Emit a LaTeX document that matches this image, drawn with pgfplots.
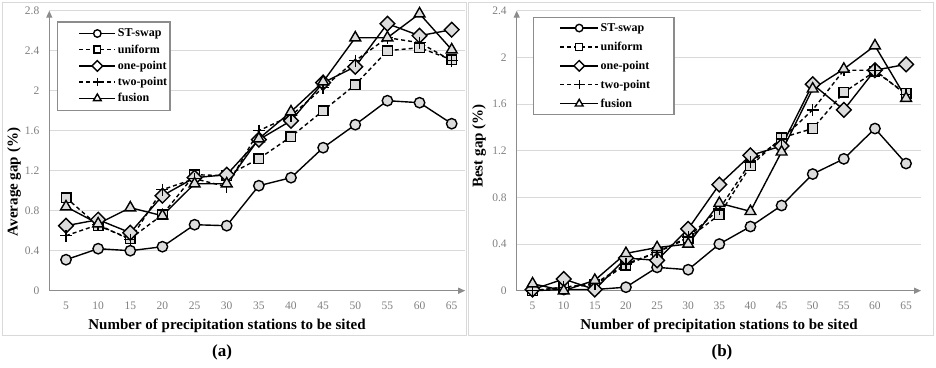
\documentclass[border=0pt]{standalone}
\usepackage{fontspec}
\setmainfont{Liberation Serif}
\usepackage{pgfplots}
\pgfplotsset{compat=1.18}
\usetikzlibrary{arrows.meta}
\definecolor{axgray}{HTML}{8C8C8C}
\definecolor{gridgray}{HTML}{D9D9D9}
\definecolor{mk}{HTML}{DCDCDC}
\definecolor{tickgray}{HTML}{7F7F7F}

\pgfplotsset{
  panel/.style={
    scale only axis, clip=false,
    height=280pt, ymin=0,
    axis x line=bottom, axis y line=left,
    axis line style={draw=axgray, line width=1.3pt, -{Triangle[length=7pt,width=6pt]}},
    ymajorgrids, grid style={gridgray, line width=0.9pt},
    major tick length=0pt,
    xtick={5,10,...,65},
    tick label style={font=\fontsize{11.5}{13}\selectfont, text=tickgray},
    /pgf/number format/assume math mode=true,
    /pgf/number format/fixed,
    yticklabel style={xshift=-6.5pt},
    xticklabel style={yshift=-7.5pt},
    legend cell align=left,
    legend image post style={every mark/.append style={fill=white, scale=0.72}},
  },
  sts/.style={black, line width=1.4pt, solid, mark=*, mark size=5.2pt, mark options={solid, fill=mk}},
  uni/.style={black, line width=1.4pt, dash pattern=on 4pt off 3pt, mark=square*, mark size=4.8pt, mark options={solid, fill=mk}},
  one/.style={black, line width=1.4pt, solid, mark=square*, mark size=5.2pt, mark options={solid, fill=mk, rotate=45}},
  two/.style={black, line width=1.4pt, dash pattern=on 4pt off 3pt, mark=+, mark size=6pt, mark options={solid}},
  fus/.style={black, line width=1.4pt, solid, mark=triangle*, mark size=6.2pt, mark options={solid, fill=mk}},
}

\begin{document}
\begin{tikzpicture}
\useasboundingbox (0pt,0pt) rectangle (936pt,-367pt);
\draw[gridgray, line width=0.8pt] (2pt,-2pt) rectangle (466pt,-335pt);
\draw[gridgray, line width=0.8pt] (468.5pt,-2pt) rectangle (933pt,-335pt);

% ---------------- panel (a)
\begin{axis}[panel,
  at={(49.3pt,-290.7pt)}, anchor=south west,
  width=415.9pt, xmin=2.4, xmax=67.1, ymax=2.8,
  ytick={0,0.4,...,2.8},
  legend style={at={(0.0185,0.962)}, anchor=north west, draw=axgray, line width=1.3pt,
    font=\bfseries\fontsize{12}{14}\selectfont, inner xsep=1pt, inner ysep=5pt, row sep=2.8pt,
    nodes={inner sep=1.8pt}},
  legend image code/.code={\path (0pt,0pt); \draw[mark repeat=2,mark phase=2,#1] plot coordinates {(20pt,0pt) (38pt,0pt) (56pt,0pt)};},
]
\addplot[sts] coordinates {(5,0.31)(10,0.42)(15,0.40)(20,0.44)(25,0.66)(30,0.65)(35,1.05)(40,1.13)(45,1.43)(50,1.66)(55,1.90)(60,1.88)(65,1.67)};
\addlegendentry{ST-swap}
\addplot[uni] coordinates {(5,0.93)(10,0.65)(15,0.52)(20,0.76)(25,1.16)(30,1.15)(35,1.32)(40,1.54)(45,1.80)(50,2.06)(55,2.40)(60,2.43)(65,2.31)};
\addlegendentry{uniform}
\addplot[one] coordinates {(5,0.65)(10,0.71)(15,0.58)(20,0.95)(25,1.13)(30,1.16)(35,1.51)(40,1.70)(45,2.08)(50,2.24)(55,2.67)(60,2.55)(65,2.61)};
\addlegendentry{one-point}
\addplot[two] coordinates {(5,0.55)(10,0.66)(15,0.51)(20,1.01)(25,1.12)(30,1.04)(35,1.60)(40,1.75)(45,2.03)(50,2.30)(55,2.53)(60,2.48)(65,2.30)};
\addlegendentry{two-point}
\addplot[fus] coordinates {(5,0.84)(10,0.67)(15,0.83)(20,0.75)(25,1.07)(30,1.07)(35,1.52)(40,1.79)(45,2.09)(50,2.53)(55,2.53)(60,2.77)(65,2.41)};
\addlegendentry{fusion}
\end{axis}

% ---------------- panel (b)
\begin{axis}[panel,
  at={(516.7pt,-290.7pt)}, anchor=south west,
  width=404.3pt, xmin=2.45, xmax=67.4, ymax=2.4,
  ytick={0,0.4,...,2.4},
  legend style={at={(0.040,0.978)}, anchor=north west, draw=axgray, line width=1.3pt,
    font=\bfseries\fontsize{12}{14}\selectfont, inner xsep=1pt, inner ysep=4pt, row sep=5.5pt,
    nodes={inner sep=1.8pt}},
  legend image code/.code={\path (0pt,0pt); \draw[mark repeat=2,mark phase=2,#1] plot coordinates {(25pt,0pt) (44pt,0pt) (63pt,0pt)};},
]
\addplot[sts] coordinates {(5,0.00)(10,0.01)(15,0.01)(20,0.03)(25,0.20)(30,0.18)(35,0.40)(40,0.55)(45,0.73)(50,1.00)(55,1.13)(60,1.39)(65,1.09)};
\addlegendentry{ST-swap}
\addplot[uni] coordinates {(5,0.00)(10,0.03)(15,0.05)(20,0.22)(25,0.33)(30,0.45)(35,0.65)(40,1.07)(45,1.31)(50,1.39)(55,1.70)(60,1.88)(65,1.69)};
\addlegendentry{uniform}
\addplot[one] coordinates {(5,0.01)(10,0.10)(15,0.01)(20,0.28)(25,0.26)(30,0.53)(35,0.91)(40,1.16)(45,1.24)(50,1.77)(55,1.55)(60,1.89)(65,1.94)};
\addlegendentry{one-point}
\addplot[two] coordinates {(5,0.00)(10,0.03)(15,0.06)(20,0.23)(25,0.33)(30,0.46)(35,0.70)(40,1.10)(45,1.30)(50,1.55)(55,1.89)(60,1.89)(65,1.68)};
\addlegendentry{two-point\hspace*{21pt}}
\addplot[fus] coordinates {(5,0.06)(10,0.00)(15,0.09)(20,0.32)(25,0.37)(30,0.40)(35,0.75)(40,0.68)(45,1.19)(50,1.73)(55,1.90)(60,2.10)(65,1.65)};
\addlegendentry{fusion}
\end{axis}

\node[rotate=90, font=\bfseries\fontsize{15}{17}\selectfont] at (14pt,-182pt) {Average gap (\%)};
\node[rotate=90, font=\bfseries\fontsize{15}{17}\selectfont] at (479pt,-146pt) {Best gap (\%)};
\node[font=\bfseries\fontsize{15}{17}\selectfont] at (227pt,-325.7pt) {Number of precipitation stations to be sited};
\node[font=\bfseries\fontsize{15}{17}\selectfont] at (719pt,-325.7pt) {Number of precipitation stations to be sited};
\node[font=\bfseries\fontsize{17}{19}\selectfont] at (222pt,-352.5pt) {(a)};
\node[font=\bfseries\fontsize{17}{19}\selectfont] at (722pt,-352.5pt) {(b)};
\end{tikzpicture}
\end{document}
